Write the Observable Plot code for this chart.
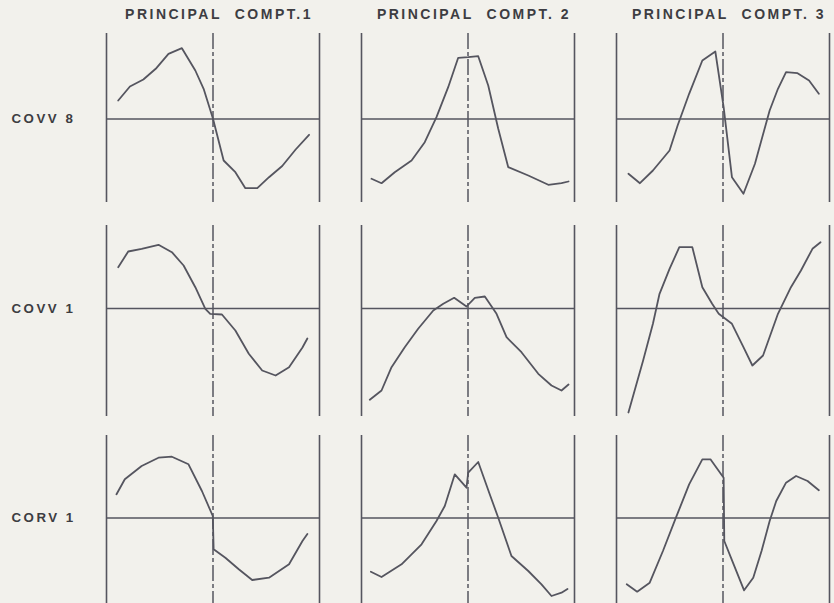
<!DOCTYPE html>
<html>
<head>
<meta charset="utf-8">
<script src="https://cdn.jsdelivr.net/npm/d3@7"></script>
<script src="https://cdn.jsdelivr.net/npm/@observablehq/plot@0.6"></script>
<style>
  html, body { margin: 0; padding: 0; background: #f2f1ec; }
  #chart { position: relative; width: 834px; height: 603px; overflow: hidden; background: #f2f1ec; }
  #chart svg { position: absolute; left: 0; background: transparent !important; }
  #chart svg g[aria-label="text"] text { letter-spacing: 2.5px; }
</style>
</head>
<body>
<div id="chart"></div>
<script>
// Column (component) titles and row (variable) labels
const columns = ["PRINCIPAL\u00a0\u00a0COMPT.1", "PRINCIPAL\u00a0\u00a0COMPT.\u00a02", "PRINCIPAL\u00a0\u00a0COMPT.\u00a03"];
const rows = ["COVV 8", "COVV 1", "CORV 1"];

// Panel frame positions along the profile (0 = left edge, 50 = dashed centre, 100 = right edge)
const frameEdges = [0, 100];
const centreLine = [50];

// Loading profiles, [position, value] (value 0 = horizontal axis)
const covv8_pc1 = [[5.5,18.5],[11.0,32.5],[17.3,39.5],[23.1,50.2],[29.1,65.2],[35.4,70.8],[41.7,48.5],[45.6,30.2],[50,0.2],[55.0,-41.5],[60.5,-53.2],[65.2,-69.2],[70.8,-69.2],[76.3,-58.2],[82.5,-47],[88.8,-30.5],[95.1,-15.8]];
const covv8_pc2 = [[4.7,-59.8],[9.4,-64.2],[15.6,-53.2],[23.5,-41.5],[29.7,-23.2],[35.2,1.8],[40.7,31.8],[45.4,61.2],[50.1,61.8],[54.8,62.8],[59.5,33.5],[64.2,-9.8],[68.9,-48.2],[78.3,-56.5],[87.7,-65.8],[93.9,-64.2],[97.2,-62.5]];
const covv8_pc3 = [[5.6,-54.8],[11.0,-64.2],[17.1,-51.5],[24.9,-31.5],[28.7,-6.5],[34.1,25.2],[40.3,58.5],[46.4,67.5],[50.3,11.8],[54.2,-58.2],[59.6,-74.8],[65.0,-44.8],[71.9,8.5],[75.8,30.2],[79.6,46.8],[85.0,45.8],[90.4,38.5],[95.0,25.2]];

const covv1_pc1 = [[5.5,41.3],[10.2,57],[16.5,59.7],[24.4,63.7],[30.7,56.3],[36.2,43],[41.7,21.3],[46.4,-0.3],[48.7,-5.3],[54.2,-6],[60.5,-22],[66.8,-45.3],[73.1,-62],[79.4,-67],[85.7,-58.7],[92.0,-39],[94.3,-30]];
const covv1_pc2 = [[3.9,-91.3],[9.4,-82],[14.1,-58.7],[20.3,-38.7],[26.6,-20.3],[33.7,-2],[38.4,4.7],[43.5,10.7],[49.3,2],[53.2,10.7],[57.9,12],[63.4,-5.3],[68.1,-28.7],[75.1,-43.7],[83.0,-65.3],[89.2,-77],[93.9,-82],[97.2,-76]];
const covv1_pc3 = [[5.6,-104],[12.5,-52],[17.1,-15.3],[20.2,14.7],[24.9,39.7],[29.5,61.3],[35.6,61.3],[40.3,21.3],[44.9,4.7],[48.0,-5.3],[54.2,-15.3],[59.6,-38.7],[63.8,-57],[68.8,-47],[75.8,-5.3],[81.9,21.3],[86.6,38],[92.0,59.7],[95.8,66.3]];

const corv1_pc1 = [[4.7,23.7],[8.6,38.7],[16.5,52],[24.4,60.3],[30.7,61.3],[38.5,53.7],[44.8,27],[49.9,2],[50.3,-31.3],[55.8,-39.7],[62.1,-51.3],[68.4,-62],[76.3,-59.7],[85.7,-46.3],[92.0,-23],[94.3,-16]];
const corv1_pc2 = [[4.4,-53.7],[9.4,-59],[18.8,-46.3],[28.2,-26.3],[35.2,-3],[39.1,12],[43.8,43.7],[49.3,30.3],[50.1,45.3],[54.8,56],[60.2,23.7],[64.2,0.3],[70.4,-38],[78.3,-53],[84.5,-66.3],[89.2,-78],[93.9,-74.7],[96.7,-71]];
const corv1_pc3 = [[4.8,-66.3],[9.7,-73.7],[15.6,-64.7],[21.8,-33],[27.9,0.3],[34.1,33.7],[40.3,58.7],[44.1,58.7],[50.3,40.3],[50.6,-23],[55.0,-46.3],[59.9,-72.3],[64.2,-59.7],[68.1,-33],[71.9,-3],[75.0,17],[79.6,35.3],[84.3,42],[89.7,37],[95.0,27.7]];

const panels = [
  [covv8_pc1, covv8_pc2, covv8_pc3],
  [covv1_pc1, covv1_pc2, covv1_pc3],
  [corv1_pc1, corv1_pc2, corv1_pc3]
];

const ink = "#55555f";
const textInk = "#3d3d42";
const font = "'Liberation Sans', Arial, Helvetica, sans-serif";

// layout of each row strip: [svg top, marginTop, frame height, y domain]
const rowLayout = [
  {top: 0, marginTop: 33, frame: 169, domain: [-83.5, 85.5]},
  {top: 225, marginTop: 0, frame: 191, domain: [-108, 83]},
  {top: 435, marginTop: 0, frame: 168, domain: [-85.5, 82.5]}
];

const chart = document.getElementById("chart");

rows.forEach((label, i) => {
  const L = rowLayout[i];
  const data = panels[i].flatMap((pts, j) => pts.map(([x, y]) => ({col: columns[j], x, y})));
  const marks = [
    Plot.ruleX(frameEdges, {x: d => d, stroke: ink, strokeWidth: 1.6}),
    Plot.ruleX(centreLine, {x: d => d, stroke: ink, strokeWidth: 1.5, strokeDasharray: "16,3,4,3"}),
    Plot.ruleY([0], {y: d => d, stroke: ink, strokeWidth: 1.6}),
    Plot.line(data, {fx: "col", x: "x", y: "y", stroke: ink, strokeWidth: 1.8, strokeLinejoin: "round", strokeLinecap: "round"}),
    Plot.text([label], {fx: () => columns[0], y: () => 0, frameAnchor: "left", dx: -95, textAnchor: "start",
      fill: textInk, fontSize: 13.3, fontWeight: "bold", fontFamily: font})
  ];
  if (i === 0) {
    marks.push(Plot.text(columns, {fx: d => d, text: d => d, frameAnchor: "top", lineAnchor: "bottom", dy: -15, dx: 6,
      fill: textInk, fontSize: 14, fontWeight: "bold", fontFamily: font}));
  }
  const svg = Plot.plot({
    width: 834,
    height: L.marginTop + L.frame,
    marginLeft: 105, marginRight: 5, marginTop: L.marginTop, marginBottom: 0,
    style: {background: "transparent", fontFamily: font, overflow: "visible"},
    fx: {domain: columns, paddingInner: 0.165, paddingOuter: 0, axis: null, label: null},
    x: {domain: [0, 100], axis: null},
    y: {domain: L.domain, axis: null},
    marks
  });
  svg.style.top = L.top + "px";
  chart.appendChild(svg);
});
</script>
</body>
</html>
